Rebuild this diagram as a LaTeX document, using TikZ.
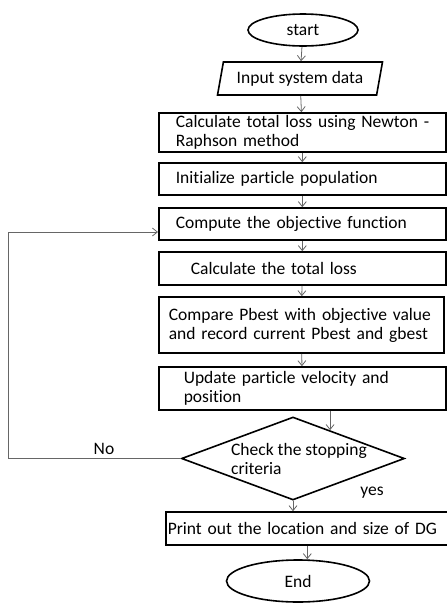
\documentclass[tikz,border=0pt]{standalone}
\usepackage{fontspec}
\setmainfont{Carlito}[Ligatures=NoCommon]
\usetikzlibrary{shapes.geometric,arrows.meta,calc}

\tikzset{
  every node/.style={font=\fontsize{17.5}{19}\selectfont},
  procbox/.style={draw, line width=1.6pt, anchor=west, align=left,
    inner xsep=2pt, inner ysep=2pt, text width=283pt,
    execute at begin node={\leftskip=#1}},
  procbox/.default=15pt,
  termnode/.style={draw, ellipse, line width=1.6pt, inner sep=0pt},
  flowline/.style={draw=black!60, line width=0.8pt}
}

\begin{document}
\begin{tikzpicture}[x=1pt, y=-1pt, >={Straight Barb[length=5pt,width=8pt]}]
    \useasboundingbox (0,0) rectangle (447,603);
    \node[termnode, minimum width=110pt, minimum height=32pt] (start) at (303,30) {start};
    \node[draw, trapezium, trapezium left angle=72, trapezium right angle=108,
          trapezium stretches=true, line width=1.6pt, inner sep=0pt,
          minimum width=165pt, minimum height=33pt] (input) at (300,78.5) {Input system data};
    \node[procbox, minimum height=39pt] (calc) at (158,132.5)
          {Calculate total loss using Newton -\\Raphson method};
    \node[procbox, minimum height=32pt] (init) at (158,179) {Initialize particle population};
    \node[procbox, minimum height=32pt] (compute) at (158,224) {Compute the objective function};
    \node[procbox=30pt, minimum height=33pt] (calcloss) at (158,268.5) {Calculate the total loss};
    \node[procbox=8pt, minimum height=56pt, text width=281pt] (compare) at (158,325)
          {Compare Pbest with objective value\\and record current Pbest and gbest};
    \node[procbox=23pt, minimum height=43pt] (update) at (158,388.5)
          {Update particle velocity and\\position};
    \node[draw, diamond, line width=1.6pt, inner sep=0pt, minimum width=223pt, minimum height=83pt,
          label={[align=left, xshift=6pt]center:Check the stopping\\criteria}] (check) at (293,458.5) {};
    \node[procbox=0pt, minimum height=33pt, text width=279pt] (print) at (165,528.5)
          {Print out the location and size of DG};
    \node[termnode, minimum width=143pt, minimum height=42pt] (end) at (298,581) {End};
    \node (nolbl) at (104,449) {No};
    \node (yeslbl) at (372,493) {yes};

    \draw[flowline, ->] (start) edge (input)
          (input) edge (calc)
          (calc) edge (init)
          (init) edge (compute)
          (compute) edge (calcloss)
          (calcloss) edge (compare)
          (compare) edge (update);
    \coordinate (checkin) at ($(check.north)!0.33!(check.east)$);
    \coordinate (back) at (8,458.5);
    \draw[flowline, ->] (update.south -| checkin) -- (checkin);
    \draw[flowline, ->] (check.south) -- (check.south |- print.north);
    \draw[flowline, ->] (print.south) -- (print.south |- end.north);
    \draw[flowline, ->] (check.west) -- (back) |- ([yshift=-8pt]compute.west);
\end{tikzpicture}
\end{document}
